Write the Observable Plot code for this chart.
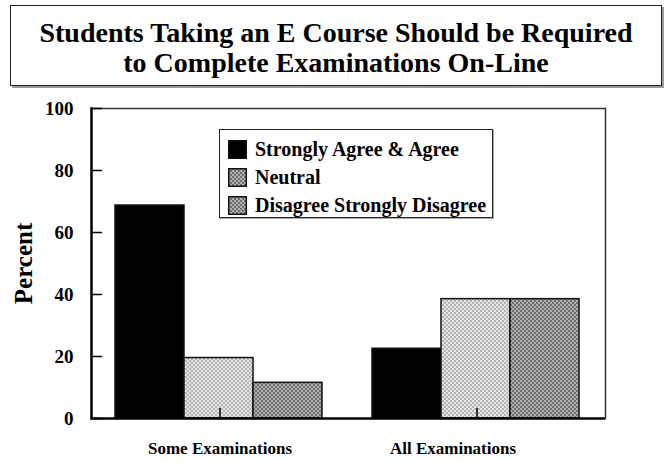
<!DOCTYPE html>
<html><head><meta charset="utf-8">
<script src="https://cdn.jsdelivr.net/npm/d3@7"></script>
<script src="https://cdn.jsdelivr.net/npm/@observablehq/plot@0.6"></script>
<style>
body{margin:0;background:#fff;font-family:"Liberation Serif","Times New Roman",serif;}
#wrap{position:relative;width:667px;height:462px;overflow:hidden;background:#fff}
#title{position:absolute;left:10px;top:5px;width:652px;height:81px;padding-top:4px;border:1.5px solid #222;box-shadow:2px 2px 0 #999;box-sizing:border-box;display:flex;flex-direction:column;justify-content:center;align-items:center;font-weight:bold;font-size:28px;line-height:30px;color:#000}
#chart{position:absolute;left:0;top:90px}
#legend{position:absolute;left:219px;top:129px;width:274px;height:89px;border:1.5px solid #222;background:#fff;box-sizing:border-box;box-shadow:1px 1px 0 #aaa;padding:5px 0 0 8px;font-weight:bold;font-size:20px}
.row{display:flex;align-items:center;height:28px;white-space:nowrap}
.row svg{margin-right:8px;flex:none}
</style></head>
<body>
<svg width="0" height="0" style="position:absolute">
<defs>
<pattern id="pNeutral" width="4" height="4" patternUnits="userSpaceOnUse">
<rect width="4" height="4" fill="#e4e4e4"/><rect width="2" height="2" fill="#b4b4b4"/><rect x="2" y="2" width="2" height="2" fill="#b4b4b4"/>
</pattern>
<pattern id="pDis" width="4" height="4" patternUnits="userSpaceOnUse">
<rect width="4" height="4" fill="#b0b0b0"/><rect width="2" height="2" fill="#6e6e6e"/><rect x="2" y="2" width="2" height="2" fill="#6e6e6e"/>
</pattern>
</defs>
</svg>
<div id="wrap">
<div id="title"></div>
<div id="chart"></div>
<div id="legend"></div>
</div>
<script>
const titleLines = ["Students Taking an E Course Should be Required", "to Complete Examinations On-Line"];
const groups = ["Some Examinations", "All Examinations"];
const categories = ["Strongly Agree & Agree", "Neutral", "Disagree Strongly Disagree"];
const someValues = [68.7, 19.5, 11.5];
const allValues = [22.5, 38.5, 38.5];
const yTicks = [0, 20, 40, 60, 80, 100];
const yLabel = "Percent";
const fills = ["#000", "url(#pNeutral)", "url(#pDis)"];
const legendFills = ["#000", "url(#pDis)", "url(#pDis)"];

const data = [];
[someValues, allValues].forEach((vals, gi) => vals.forEach((v, ci) => data.push({group: groups[gi], category: categories[ci], value: v})));

const tickShape = {draw(context, l) { context.moveTo(0, 0); context.lineTo(0, -l); }};
const fxText = {anchor: "bottom", tickSize: 0, tickPadding: 23, fontSize: 17, fontWeight: "bold", label: null};

const chart = Plot.plot({
  width: 667, height: 372,
  marginTop: 18, marginBottom: 44, marginLeft: 91, marginRight: 62,
  style: {fontFamily: "'Liberation Serif', 'Times New Roman', serif", color: "#000", background: "transparent"},
  fx: {domain: groups, paddingInner: 0, paddingOuter: 0, label: null},
  x: {domain: categories, paddingInner: 0, paddingOuter: 0.34, axis: null},
  y: {domain: [0, 100], label: null, axis: null},
  color: {domain: categories, range: fills},
  marks: [
    Plot.barY(data, {fx: "group", x: "category", y: "value", fill: "category", stroke: "#111", strokeWidth: 1.5, dx: -1}),
    Plot.ruleY([100], {stroke: "#333", strokeWidth: 1.5}),
    Plot.ruleY([0], {stroke: "#000", strokeWidth: 2.5}),
    Plot.frame({anchor: "left", facetAnchor: "left", stroke: "#000", strokeWidth: 2.5}),
    Plot.frame({anchor: "right", facetAnchor: "right", stroke: "#333", strokeWidth: 1.5}),
    Plot.vector(yTicks, {y: d => d, frameAnchor: "left", facetAnchor: "left", length: 10, rotate: 90, anchor: "start", shape: tickShape, stroke: "#000", strokeWidth: 1.5}),
    Plot.vector(groups, {fx: d => d, frameAnchor: "bottom", length: 10, rotate: 0, anchor: "start", shape: tickShape, stroke: "#000", strokeWidth: 1.5}),
    Plot.axisY({ticks: yTicks, tickSize: 0, tickPadding: 18, fontSize: 19, fontWeight: "bold", label: null}),
    Plot.text([yLabel], {text: d => d, frameAnchor: "left", facetAnchor: "left", textAnchor: "middle", dx: -68, rotate: -90, fontSize: 25, fontWeight: "bold", fill: "#000"}),
    Plot.axisFx({...fxText, ticks: [groups[0]]}),
    Plot.axisFx({...fxText, ticks: [groups[1]], dx: -24})
  ]
});
document.getElementById("chart").append(chart);

d3.select("#title").selectAll("div").data(titleLines).join("div").text(d => d);

const leg = d3.select("#legend");
categories.forEach((c, i) => {
  const row = leg.append("div").attr("class", "row");
  const s = row.append("svg").attr("width", 19).attr("height", 19);
  s.append("rect").attr("x", 0.75).attr("y", 0.75).attr("width", 17.5).attr("height", 17.5).attr("fill", legendFills[i]).attr("stroke", "#111").attr("stroke-width", 1.5);
  row.append("span").text(c);
});
</script>
</body></html>
